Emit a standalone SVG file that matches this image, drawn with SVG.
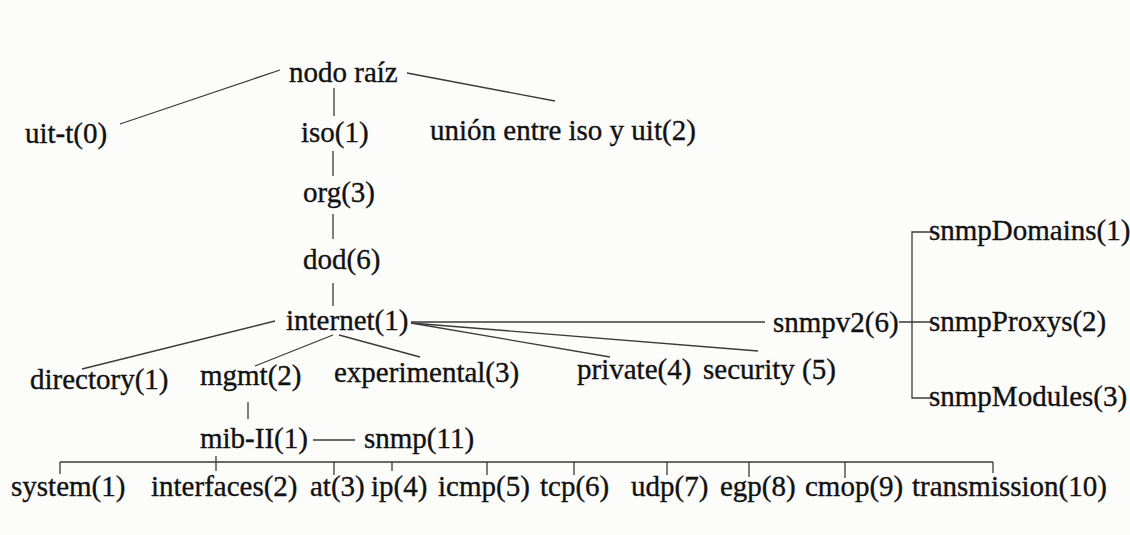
<svg xmlns="http://www.w3.org/2000/svg" width="1130" height="535" viewBox="0 0 1130 535">
  <style>
    text { font-family: "Liberation Serif", "Times New Roman", serif; font-size: 29px; fill: #111; stroke: #111; stroke-width: 0.35; }
    .edge { stroke: #3a3a3a; stroke-width: 1.3; fill: none; stroke-linecap: butt; }
  </style>
  <rect width="1130" height="535" fill="#fcfcfb"/>

  <!-- connectors -->
  <g id="connectors" class="edge">
    <!-- root level -->
    <line x1="120" y1="124" x2="280" y2="70"/>
    <line x1="407" y1="73" x2="555" y2="101"/>
    <line x1="334" y1="88" x2="334" y2="116"/>
    <!-- iso / org / dod / internet chain -->
    <line x1="333" y1="151" x2="333" y2="176"/>
    <line x1="333" y1="214" x2="333" y2="239"/>
    <line x1="333" y1="283" x2="333" y2="306"/>
    <!-- children of internet -->
    <line x1="275" y1="321" x2="82" y2="369"/>
    <line x1="333" y1="335" x2="255" y2="366"/>
    <line x1="339" y1="335" x2="420" y2="357"/>
    <line x1="411" y1="322" x2="765" y2="322"/>
    <line x1="411" y1="323" x2="610" y2="357"/>
    <line x1="411" y1="323" x2="758" y2="351"/>
    <!-- snmpv2 bracket -->
    <line x1="899" y1="322" x2="932" y2="322"/>
    <polyline points="932,232 912,232 912,398 932,398"/>
    <!-- mgmt / mib-II / snmp -->
    <line x1="248" y1="402" x2="248" y2="419"/>
    <line x1="313" y1="440" x2="355" y2="440"/>
    <!-- mib-II children bar -->
    <line x1="60" y1="462" x2="993" y2="462"/>
    <line x1="60" y1="462" x2="60" y2="474"/>
    <line x1="216" y1="456" x2="216" y2="471"/>
    <line x1="334" y1="462" x2="334" y2="475"/>
    <line x1="392" y1="462" x2="392" y2="471"/>
    <line x1="487" y1="462" x2="487" y2="475"/>
    <line x1="574" y1="462" x2="574" y2="475"/>
    <line x1="667" y1="462" x2="667" y2="475"/>
    <line x1="749" y1="462" x2="749" y2="477"/>
    <line x1="845" y1="462" x2="845" y2="478"/>
    <line x1="993" y1="462" x2="993" y2="473"/>
  </g>

  <g id="nodes">
    <g id="node-root"><text x="289" y="82">nodo raíz</text></g>
    <g id="node-uit-t"><text x="25" y="143">uit-t(0)</text></g>
    <g id="node-iso"><text x="301" y="142">iso(1)</text></g>
    <g id="node-joint"><text x="430" y="140">unión entre iso y uit(2)</text></g>
    <g id="node-org"><text x="303" y="202">org(3)</text></g>
    <g id="node-dod"><text x="303" y="269">dod(6)</text></g>
    <g id="node-internet"><text x="286" y="330">internet(1)</text></g>
    <g id="node-directory"><text x="30" y="389">directory(1)</text></g>
    <g id="node-mgmt"><text x="200" y="385">mgmt(2)</text></g>
    <g id="node-experimental"><text x="334" y="382">experimental(3)</text></g>
    <g id="node-private"><text x="577" y="379">private(4)</text></g>
    <g id="node-security"><text x="703" y="379">security (5)</text></g>
    <g id="node-snmpv2"><text x="773" y="332">snmpv2(6)</text></g>
    <g id="node-snmpDomains"><text x="929" y="240">snmpDomains(1)</text></g>
    <g id="node-snmpProxys"><text x="929" y="331">snmpProxys(2)</text></g>
    <g id="node-snmpModules"><text x="929" y="406">snmpModules(3)</text></g>
    <g id="node-mib-ii"><text x="200" y="448">mib-II(1)</text></g>
    <g id="node-snmp"><text x="364" y="448">snmp(11)</text></g>
    <g id="node-system"><text x="11" y="496">system(1)</text></g>
    <g id="node-interfaces"><text x="151" y="496">interfaces(2)</text></g>
    <g id="node-at"><text x="310" y="496">at(3)</text></g>
    <g id="node-ip"><text x="371" y="496">ip(4)</text></g>
    <g id="node-icmp"><text x="438" y="496">icmp(5)</text></g>
    <g id="node-tcp"><text x="540" y="496">tcp(6)</text></g>
    <g id="node-udp"><text x="631" y="496">udp(7)</text></g>
    <g id="node-egp"><text x="720" y="496">egp(8)</text></g>
    <g id="node-cmop"><text x="805" y="496">cmop(9)</text></g>
    <g id="node-transmission"><text x="912" y="496">transmission(10)</text></g>
  </g>
</svg>
